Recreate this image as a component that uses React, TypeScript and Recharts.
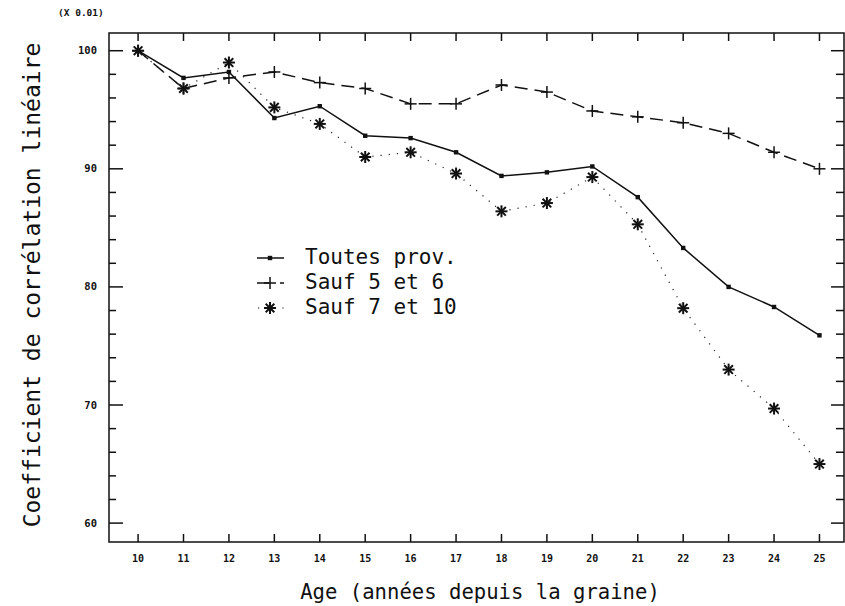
import React from "react";
import { LineChart, Line, XAxis, YAxis, ReferenceArea } from "recharts";

// Age (années depuis la graine)
const ages = [10, 11, 12, 13, 14, 15, 16, 17, 18, 19, 20, 21, 22, 23, 24, 25];

// Coefficient de corrélation linéaire (x 0.01)
const toutesProv = [100, 97.7, 98.2, 94.3, 95.3, 92.8, 92.6, 91.4, 89.4, 89.7, 90.2, 87.6, 83.3, 80.0, 78.3, 75.9];
const sauf5et6 = [100, 96.8, 97.7, 98.2, 97.3, 96.8, 95.5, 95.5, 97.1, 96.5, 94.9, 94.4, 93.9, 93.0, 91.4, 90.0];
const sauf7et10 = [100, 96.8, 99.0, 95.2, 93.8, 91.0, 91.4, 89.6, 86.4, 87.1, 89.3, 85.3, 78.2, 73.0, 69.7, 65.0];

const yTicks = [60, 62, 64, 66, 68, 70, 72, 74, 76, 78, 80, 82, 84, 86, 88, 90, 92, 94, 96, 98, 100];

const data = ages.map((age, i) => ({
  age,
  toutes: toutesProv[i],
  s56: sauf5et6[i],
  s710: sauf7et10[i],
}));

const mono = "'DejaVu Sans Mono', monospace";
const ink = "#111";

// plot box (matches chart margins / axis sizes below)
const W = 845;
const H = 606;
const PLOT_LEFT = 109;
const PLOT_TOP = 33;
const PLOT_RIGHT = 844;
const PLOT_BOTTOM = 542;

const xDomain: [number, number] = [9.36, 25.54];
const yDomain: [number, number] = [58.4, 101.5];

const SquareDot = (props: any) => {
  const { cx, cy } = props;
  if (cx == null || cy == null) return null;
  return <rect x={cx - 2.2} y={cy - 2.2} width={4.4} height={4.4} fill={ink} />;
};

const PlusDot = (props: any) => {
  const { cx, cy } = props;
  if (cx == null || cy == null) return null;
  return (
    <g stroke={ink} strokeWidth={1.5}>
      <line x1={cx - 6} y1={cy} x2={cx + 6} y2={cy} />
      <line x1={cx} y1={cy - 6} x2={cx} y2={cy + 6} />
    </g>
  );
};

const StarDot = (props: any) => {
  const { cx, cy } = props;
  if (cx == null || cy == null) return null;
  const r = 6;
  const d = r * 0.72;
  return (
    <g stroke={ink} strokeWidth={2}>
      <line x1={cx - r} y1={cy} x2={cx + r} y2={cy} />
      <line x1={cx} y1={cy - r} x2={cx} y2={cy + r} />
      <line x1={cx - d} y1={cy - d} x2={cx + d} y2={cy + d} />
      <line x1={cx - d} y1={cy + d} x2={cx + d} y2={cy - d} />
    </g>
  );
};

// bottom + top inward ticks, label under the axis
const XTick = (props: any) => {
  const { x, payload } = props;
  return (
    <g stroke={ink} strokeWidth={1.5}>
      <line x1={x} y1={PLOT_BOTTOM} x2={x} y2={PLOT_BOTTOM - 8} />
      <line x1={x} y1={PLOT_TOP} x2={x} y2={PLOT_TOP + 8} />
      <text
        x={x}
        y={PLOT_BOTTOM + 20}
        textAnchor="middle"
        fontSize={10}
        fontWeight="bold"
        fontFamily={mono}
        fill={ink}
        stroke="none"
      >
        {payload.value}
      </text>
    </g>
  );
};

// left + right inward ticks, major every 10
const YTick = (props: any) => {
  const { y, payload } = props;
  const major = payload.value % 10 === 0;
  return (
    <g stroke={ink} strokeWidth={1.5}>
      <line x1={PLOT_LEFT} y1={y} x2={PLOT_LEFT + (major ? 14 : 7)} y2={y} />
      <line x1={PLOT_RIGHT} y1={y} x2={PLOT_RIGHT - (major ? 13 : 8)} y2={y} />
      {major && (
        <text
          x={PLOT_LEFT - 12}
          y={y + 3.5}
          textAnchor="end"
          fontSize={10.5}
          fontWeight="bold"
          fontFamily={mono}
          fill={ink}
          stroke="none"
        >
          {payload.value}
        </text>
      )}
    </g>
  );
};

const LegendOverlay = () => (
  <div style={{ position: "absolute", left: 250, top: 244, fontFamily: mono, fontSize: 21, color: ink, lineHeight: "21px" }}>
    <svg width={40} height={76} style={{ position: "absolute", left: 0, top: 0 }}>
      <line x1={7} y1={14} x2={34} y2={14} stroke={ink} strokeWidth={1.5} />
      <SquareDot cx={20} cy={14} />
      <line x1={7} y1={39} x2={34} y2={39} stroke={ink} strokeWidth={1.5} strokeDasharray="12 11" />
      <PlusDot cx={20} cy={39} />
      <line x1={8} y1={64} x2={34} y2={64} stroke={ink} strokeWidth={1.2} strokeDasharray="1.2 11" />
      <StarDot cx={20} cy={64} />
    </svg>
    <div style={{ position: "absolute", left: 55, top: 3, whiteSpace: "pre" }}>Toutes prov.</div>
    <div style={{ position: "absolute", left: 55, top: 28, whiteSpace: "pre" }}>Sauf 5 et 6</div>
    <div style={{ position: "absolute", left: 55, top: 53, whiteSpace: "pre" }}>Sauf 7 et 10</div>
  </div>
);

export default function App() {
  return (
    <div style={{ position: "absolute", left: 0, top: 0, width: W, height: H, background: "#fff" }}>
      <LineChart
        width={W}
        height={H}
        data={data}
        margin={{ top: PLOT_TOP, right: W - PLOT_RIGHT, left: 0, bottom: 0 }}
      >
        <XAxis
          dataKey="age"
          type="number"
          domain={xDomain}
          ticks={ages}
          interval={0}
          allowDataOverflow
          height={H - PLOT_BOTTOM}
          tickLine={false}
          tick={<XTick />}
          axisLine={false}
        />
        <YAxis
          type="number"
          domain={yDomain}
          ticks={yTicks}
          interval={0}
          allowDataOverflow
          width={PLOT_LEFT}
          tickLine={false}
          tick={<YTick />}
          axisLine={false}
        />
        <ReferenceArea
          x1={xDomain[0]}
          x2={xDomain[1]}
          y1={yDomain[0]}
          y2={yDomain[1]}
          fill="none"
          fillOpacity={0}
          stroke={ink}
          strokeWidth={1.5}
          strokeOpacity={1}
          ifOverflow="visible"
        />
        <Line
          dataKey="s710"
          type="linear"
          stroke="#222"
          strokeWidth={1.2}
          strokeDasharray="1.2 7"
          dot={<StarDot />}
          activeDot={false}
          isAnimationActive={false}
        />
        <Line
          dataKey="s56"
          type="linear"
          stroke={ink}
          strokeWidth={1.5}
          strokeDasharray="13 7"
          dot={<PlusDot />}
          activeDot={false}
          isAnimationActive={false}
        />
        <Line
          dataKey="toutes"
          type="linear"
          stroke={ink}
          strokeWidth={1.5}
          dot={<SquareDot />}
          activeDot={false}
          isAnimationActive={false}
        />
      </LineChart>
      <div style={{ position: "absolute", left: 58, top: 7, fontFamily: mono, fontSize: 9.5, fontWeight: "bold", color: ink, whiteSpace: "pre" }}>
        (X 0.01)
      </div>
      <div
        style={{
          position: "absolute",
          left: 32,
          top: 285,
          transform: "translate(-50%, -50%) rotate(-90deg)",
          fontFamily: mono,
          fontSize: 23,
          color: ink,
          whiteSpace: "pre",
        }}
      >
        Coefficient de corrélation linéaire
      </div>
      <div
        style={{
          position: "absolute",
          left: 480,
          top: 592,
          transform: "translate(-50%, -50%)",
          fontFamily: mono,
          fontSize: 20.6,
          color: ink,
          whiteSpace: "pre",
        }}
      >
        Age (années depuis la graine)
      </div>
      <LegendOverlay />
    </div>
  );
}
